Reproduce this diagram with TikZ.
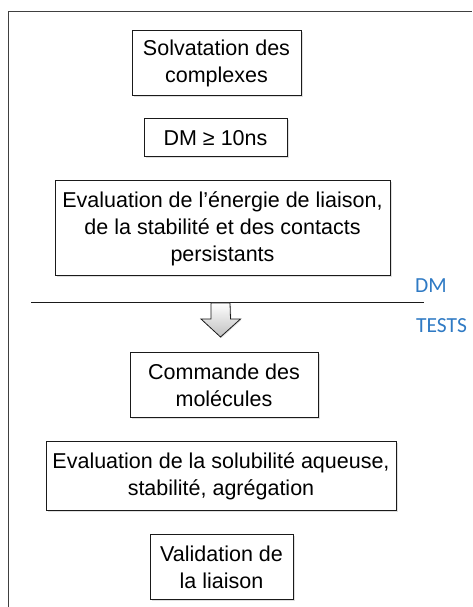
\documentclass[tikz,border=0pt]{standalone}
\usepackage{fontspec}
\setmainfont{Liberation Sans}
\newfontfamily\labelfont{Carlito}
\usetikzlibrary{shadows}
\definecolor{ink}{HTML}{1A1A1A}
\definecolor{frame}{HTML}{404040}
\definecolor{tag}{HTML}{2F7AC4}

\begin{document}
\begin{tikzpicture}[
  x=1pt,y=1pt,
  font=\fontsize{21.5}{27}\selectfont,
  step box/.style={rectangle,draw=ink,line width=1pt,fill=white,align=center,inner sep=0pt,
    drop shadow={shadow xshift=1.5pt,shadow yshift=-1.5pt,opacity=0.25}},
  tag/.style={font=\labelfont\fontsize{21.5}{24}\selectfont,text=tag,anchor=west,inner sep=0pt}]

\useasboundingbox (0,0) rectangle (472,607);

% frame
\coordinate (fb) at (8,0);
\coordinate (fc) at (8,595);
\coordinate (fr) at (472,595);
\draw[frame,line width=1pt] (fb) -- (fc) -- (fr);

% steps before the cut
\node[step box,minimum width=169,minimum height=65] (solv) at (216.5,543.5) {Solvatation des\\complexes};
\node[step box,minimum width=143,minimum height=38] (dm)   at (215.5,469) {DM ≥ 10ns};
\node[step box,minimum width=335,minimum height=95] (eval) at (222.5,378.5) {Evaluation de l’énergie de liaison,\\de la stabilité et des contacts\\persistants};

% cut line with labels
\coordinate (cl) at (31,304);
\coordinate (cr) at (424,304);
\draw[ink,line width=1pt] (cl) -- (cr);
\node[tag] (tdm)    at (415,321) {DM};
\node[tag] (ttests) at (416,281) {TESTS};

% down arrow
\coordinate (ar) at (220.5,304);
\draw[ink,line width=0.8pt,top color=white,bottom color=black!25,
  drop shadow={shadow xshift=1pt,shadow yshift=-1pt,opacity=0.25}]
  ([xshift=-9.5]ar) -- ++(0,-16) -- ++(-10,0) -- ([yshift=-34]ar) -- ++(20,18)
  -- ++(-10,0) -- ([xshift=9.5]ar) -- cycle;

% steps after the cut
\node[step box,minimum width=188,minimum height=65] (cmd)  at (224,221.5) {Commande des\\molécules};
\node[step box,minimum width=350,minimum height=69] (sol)  at (221,130.5) {Evaluation de la solubilité aqueuse,\\stabilité, agrégation};
\node[step box,minimum width=143,minimum height=65] (val)  at (221.5,39.5) {Validation de\\la liaison};
\end{tikzpicture}
\end{document}
